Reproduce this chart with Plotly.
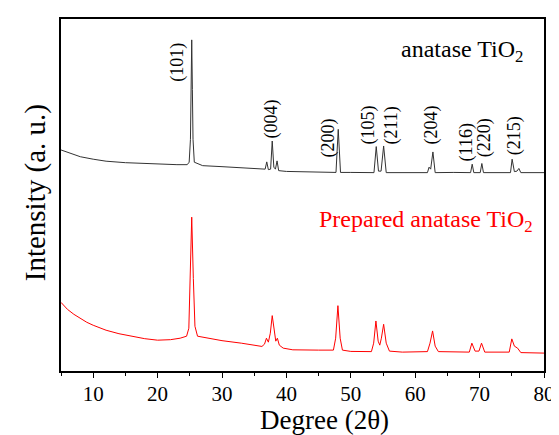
import plotly.graph_objects as go

# ---- data (2theta in degrees, intensity in a.u.) ----
commercial_2theta = [5, 6, 7, 8, 10, 12, 15, 18, 21, 23, 24.6, 24.9, 25.1, 25.2, 25.3, 25.4, 25.5, 25.7,
                     27, 30, 33, 36, 36.7, 36.95, 37.2, 37.55, 37.8, 38.05, 38.3, 38.55, 38.8, 40, 44,
                     47.7, 48.05, 48.4, 50, 53.6, 53.95, 54.3, 54.7, 55.1, 55.5, 58, 61.9, 62.15, 62.4,
                     62.75, 63.1, 66, 68.6, 68.85, 69.1, 70.1, 70.35, 70.6, 74.8, 75.05, 75.4, 75.8,
                     76.1, 76.4, 80]
commercial_intensity = [222.3, 220, 217.5, 215.5, 213, 211, 209.5, 208.5, 208, 207.5, 207.5, 210, 233, 283,
                        333, 283, 233, 210, 206.5, 205.5, 204.5, 203.5, 203, 210.3, 202.5, 203, 231.3, 205,
                        203, 211.3, 201.5, 200.7, 200, 199.7, 243, 199.7, 199.7, 199.5, 225.7, 201, 201,
                        226.3, 199.5, 199.5, 199.5, 205, 203, 220.3, 199.5, 199.7, 199.5, 208, 199.5, 199.5,
                        208.7, 199.5, 199.5, 213, 200.5, 201, 203.7, 199.5, 199.5]

prepared_2theta = [5, 6, 7, 8, 9, 10, 12, 14, 16, 18, 20, 22, 23.5, 24.5, 24.85, 25.05, 25.3, 25.55, 25.8,
                   26.2, 28, 30, 33, 35, 36.2, 36.6, 36.9, 37.2, 37.5, 37.8, 38.1, 38.35, 38.6, 38.9, 39.5,
                   41, 45, 47.3, 47.65, 48.0, 48.35, 48.7, 50, 53.2, 53.55, 53.9, 54.25, 54.5, 54.75, 55.1,
                   55.5, 56, 58, 61.9, 62.3, 62.7, 63.1, 63.6, 68.4, 68.8, 69.3, 69.9, 70.3, 70.8, 74.6,
                   75.0, 75.4, 75.9, 76.4, 80]
prepared_intensity = [69, 62, 57, 53, 49, 46, 41, 37.5, 35, 32.5, 31, 31.5, 33, 35, 43, 93, 154.7, 93, 45,
                      35, 32.5, 30.5, 28, 26, 24.7, 27, 33, 29, 38, 55.7, 38, 30, 33, 26, 23, 21.3, 21, 21,
                      33, 65.7, 33, 21, 19.7, 19.5, 28, 50.3, 30, 26, 33, 47, 28, 20, 19, 19.5, 28, 40.3,
                      25, 19.5, 19, 28, 20, 20, 28, 19, 19, 32.3, 25, 23, 18.5, 18]

hkl_labels = ["(101)", "(004)", "(200)", "(105)", "(211)", "(204)", "(116)", "(220)", "(215)"]
x_tick_values = [10, 20, 30, 40, 50, 60, 70, 80]

# ---- label placement (layout) ----
hkl_label_x = [23.16, 37.63, 46.48, 52.69, 56.26, 62.46, 67.9, 70.68, 75.34]
hkl_label_y = [311, 253, 234, 247, 247, 247, 230, 235, 237]

FONT = "Liberation Serif, Times New Roman, serif"

fig = go.Figure()
fig.add_trace(go.Scatter(x=commercial_2theta, y=commercial_intensity, mode="lines",
                         line=dict(color="#333333", width=1), showlegend=False))
fig.add_trace(go.Scatter(x=prepared_2theta, y=prepared_intensity, mode="lines",
                         line=dict(color="#ff0000", width=1), showlegend=False))

annotations = []
for lab, lx, ly in zip(hkl_labels, hkl_label_x, hkl_label_y):
    annotations.append(dict(x=lx, y=ly, xref="x", yref="y", text=lab, showarrow=False,
                            textangle=-90, font=dict(family=FONT, size=18, color="black"),
                            xanchor="center", yanchor="middle"))
annotations += [
    dict(x=0.9607, y=0.91, xref="paper", yref="paper", text="anatase TiO<sub>2</sub>",
         showarrow=False, xanchor="right", yanchor="middle",
         font=dict(family=FONT, size=24, color="black")),
    dict(x=0.981, y=0.425, xref="paper", yref="paper", text="Prepared anatase TiO<sub>2</sub>",
         showarrow=False, xanchor="right", yanchor="middle",
         font=dict(family=FONT, size=24, color="#ff0000")),
    dict(x=0.545, y=-0.140, xref="paper", yref="paper", text="Degree (2θ)",
         showarrow=False, xanchor="center", yanchor="middle",
         font=dict(family=FONT, size=27, color="black")),
    dict(x=-0.051, y=0.506, xref="paper", yref="paper", text="Intensity (a. u.)",
         showarrow=False, xanchor="center", yanchor="middle", textangle=-90,
         font=dict(family=FONT, size=29, color="black")),
]

fig.update_layout(
    width=559, height=435,
    margin=dict(l=53, r=23, t=9, b=72),
    paper_bgcolor="white", plot_bgcolor="white",
    annotations=annotations,
    xaxis=dict(range=[5, 80], tickvals=x_tick_values, ticks="outside", ticklen=5, tickwidth=1.2,
               tickcolor="black", showline=True, linecolor="black", linewidth=1.5, mirror=True,
               showgrid=False, zeroline=False, ticklabelstandoff=-2,
               tickfont=dict(family=FONT, size=21, color="black"),
               minor=dict(dtick=5, tick0=0, ticks="outside", ticklen=3, tickwidth=1.2, tickcolor="black",
                          showgrid=False)),
    yaxis=dict(range=[0, 354], showticklabels=False, ticks="", showline=True, linecolor="black",
               linewidth=1.5, mirror=True, showgrid=False, zeroline=False),
)

fig.write_html("out.html")
